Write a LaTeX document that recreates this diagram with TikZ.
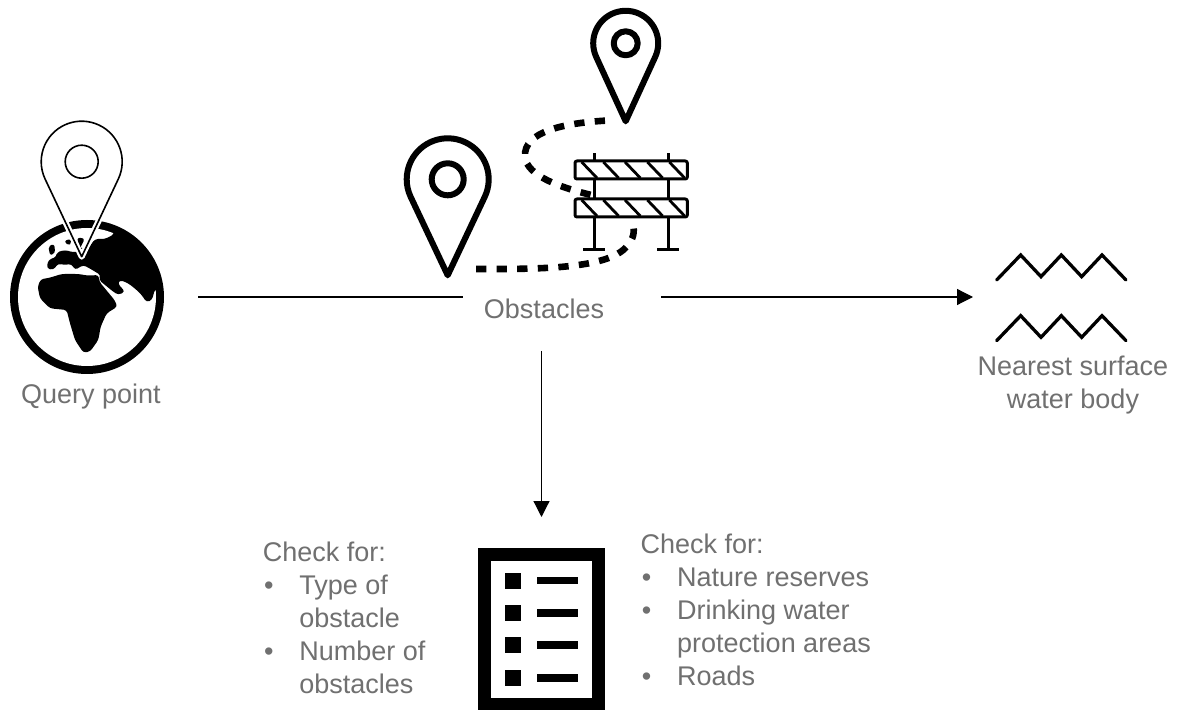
\documentclass[tikz,border=0pt]{standalone}
\usepackage{fontspec}
\setmainfont{Liberation Sans}
\usetikzlibrary{arrows.meta}
\definecolor{lab}{HTML}{707070}
\newcommand{\pinshape}[5]{% style cx cy R d
  \pgfmathsetmacro{\pa}{acos(#4/#5)}
  \pgfmathsetmacro{\psx}{#2+#4*sin(\pa)}
  \pgfmathsetmacro{\psy}{#3+#4*cos(\pa)}
  \pgfmathsetmacro{\psa}{90-\pa}
  \pgfmathsetmacro{\pea}{90+\pa-360}
  \draw[#1] (#2,#3+#5) -- (\psx,\psy) arc[start angle=\psa, end angle=\pea, radius=#4] -- cycle;
}
\tikzset{
  lab/.style={font=\fontsize{27}{33}\selectfont, text=lab, inner sep=0pt, align=left, anchor=north west},
  labc/.style={font=\fontsize{27}{33}\selectfont, text=lab, inner sep=0pt, align=center, anchor=north},
  conn/.style={line width=1.2pt, draw=black},
  arr/.style={conn, -{Triangle[length=16pt,width=16pt]}},
  hub/.style={inner sep=0pt, outer sep=0pt, draw=none},
  pinline/.style={line width=6pt, line join=round, draw=black},
  dashy/.style={line width=6.6pt, draw=black, dash pattern=on 10.3pt off 10.3pt},
  bar/.style={line width=3pt, draw=black, line join=round},
  hatch/.style={line width=2.8pt, draw=black},
  wave/.style={line width=3.3pt, draw=black, line cap=round, line join=miter},
  zg/.style={x=.33333pt, y=-.33333pt}
}
\newcommand{\bul}{\makebox[36.5pt][l]{\hspace{1.2pt}•}}
\begin{document}
\begin{tikzpicture}[x=1pt,y=-1pt]
\useasboundingbox (0,0) rectangle (1179,711);
\fill[white] (0,0) rectangle (1179,711);

% globe
\fill[black] (87,297) circle (77);
\fill[white] (87,297) circle (69);
\begin{scope}
\clip (87,297) circle (70);
\begin{scope}[shift={(30,215)},zg]
 \fill[black,rounded corners=3pt] (195,72)--(225,72)--(252,58)--(250,20)--(450,60)--(450,225)--(375,222)--(366,255)--(350,262)--(335,240)--(320,225)--(295,205)--(270,195)--(263,205)--(285,230)--(265,240)--(247,228)--(207,195)--(212,180)--(175,158)--(160,150)--(150,156)--(135,165)--(125,147)--(100,150)--(85,145)--(70,165)--(50,160)--(55,135)--(80,125)--(80,112)--(105,105)--(130,112)--(145,110)--(165,70)--(140,68)--(150,100)--(175,100)--cycle;
 \fill[black,rounded corners=2pt] (55,95)--(70,87)--(76,100)--(72,118)--(60,120)--cycle;
 \fill[black,rounded corners=2pt] (103,78)--(120,72)--(125,85)--(115,92)--cycle;
\end{scope}
\begin{scope}[shift={(0,110)},zg]
 \fill[black,rounded corners=3pt] (185,492)--(235,492)--(265,497)--(296,495)--(298,515)--(345,572)--(352,590)--(320,610)--(302,650)--(295,690)--(270,725)--(250,728)--(225,690)--(210,640)--(200,600)--(150,595)--(120,565)--(113,530)--(122,508)--(150,503)--cycle;
\end{scope}
\end{scope}
% query pin
\pinshape{white,line width=6pt,line join=round}{81.7}{161.7}{40.5}{95}
\pinshape{black,line width=1.6pt,line join=round}{81.7}{161.7}{40.5}{95}
\draw[black,line width=1.6pt] (81.7,161.7) circle (16.5);

% other pins
\pinshape{pinline}{625.7}{43.3}{32.5}{78}
\draw[pinline] (625.7,43.3) circle (12);
\pinshape{pinline}{447.7}{179.3}{41}{96}
\draw[pinline] (447.7,179.3) circle (16);

% barrier
\begin{scope}[shift={(390,0)},zg]
 \foreach \px in {612,835}{
  \draw[bar] (\px,460)--(\px,483);
  \draw[bar] (\px,537)--(\px,597);
  \draw[bar] (\px,650)--(\px,750);
  \draw[bar] (\px-33,750)--(\px+33,750);
 }
 \foreach \py in {483,597}{
  \draw[bar,rounded corners=2pt] (555,\py) rectangle (892,\py+54);
  \foreach \hx in {575,640,705,772,838}{
   \draw[hatch] (\hx,\py+3)--(\hx+46,\py+51);
  }
 }
 \draw[dashy] (645,362) .. controls (520,370) and (400,395) .. (405,470) .. controls (410,530) and (520,565) .. (612,587);
 \draw[dashy] (258,807) .. controls (420,807) and (640,810) .. (705,745) .. controls (725,725) and (735,705) .. (730,678);
\end{scope}

% waves
\begin{scope}[shift={(940,240)},zg]
 \draw[wave] (170,120)--(242,45)--(303,110)--(364,45)--(425,110)--(486,45)--(558,120);
 \draw[wave] (170,302)--(242,227)--(303,292)--(364,227)--(425,292)--(486,227)--(558,302);
\end{scope}

% list icon
\draw[black,line width=12.5pt,miter limit=10] (484.5,554.5) rectangle (598.5,704);
\foreach \ly in {572.7,605,637.3,670}{
 \fill[black] (505,\ly) rectangle (521,\ly+16);
 \fill[black] (537.3,\ly+4) rectangle (577.7,\ly+11.6);
}

% connector hubs
\node[hub, minimum width=222pt, minimum height=154pt] (globe) at (87,297) {};
\node[hub, minimum width=198pt, minimum height=108pt] (obst) at (562,297) {};
\node[hub, minimum width=174pt, minimum height=10pt] (water) at (1060,297) {};
\node[hub, minimum width=127pt, minimum height=62pt] (list) at (541.5,548) {};
\draw[conn] (globe.east) -- (obst.west);
\draw[arr] (obst.east) -- (water.west);
\draw[arr] (obst.south -| list.north) -- (list.north);

% labels
\node[labc] (ql) at (91,384) {Query point};
\node[labc] (ol) at (544,299) {Obstacles};
\node[labc] (wl) at (1073,355.5) {Nearest surface\\water body};
\node[lab] (cl) at (262.7,542) {Check for:\\\bul Type of\\\hphantom{\bul}obstacle\\\bul Number of\\\hphantom{\bul}obstacles};
\node[lab] (cr) at (640.5,533.5) {Check for:\\\bul Nature reserves\\\bul Drinking water\\\hphantom{\bul}protection areas\\\bul Roads};
\end{tikzpicture}
\end{document}
